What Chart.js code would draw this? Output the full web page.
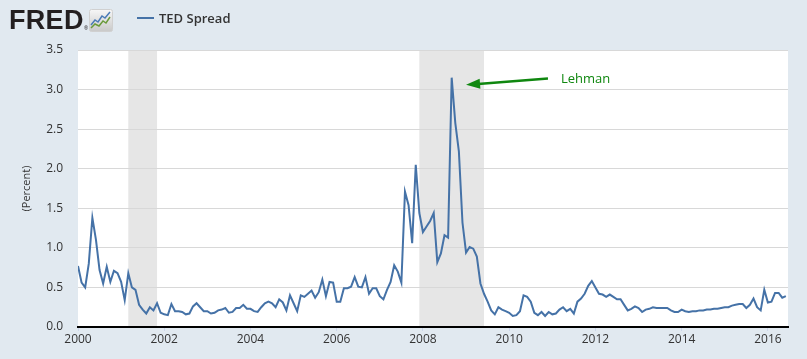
<!DOCTYPE html>
<html lang="en">
<head>
<meta charset="UTF-8">
<title>TED Spread - FRED</title>
<script src="https://cdn.jsdelivr.net/npm/chart.js"></script>
<style>
    html, body { margin: 0; padding: 0; background: #e1e9f0; }
    body { width: 807px; height: 359px; position: relative; overflow: hidden; font-family: 'Open Sans', sans-serif; }
    #chart { position: absolute; left: 0; top: 0; }
    .logo { position: absolute; left: 9px; top: 7px; font-family: 'Liberation Sans', Arial, sans-serif; font-weight: bold;
            font-size: 27px; line-height: 27px; color: #231f20; letter-spacing: 0.3px; }
    .reg { position: absolute; left: 84px; top: 26px; font-size: 5px; line-height: 5px; color: #231f20; }
    .logo-icon { position: absolute; left: 89px; top: 9px; }
    .legend { position: absolute; left: 137px; top: 9px; height: 18px; display: flex; align-items: center; }
    .legend .swatch { width: 17px; height: 2px; background: #4572a7; margin-right: 5px; }
    .legend span { font-size: 13px; font-weight: 600; color: #333; }
</style>
</head>
<body>
<canvas id="chart" width="807" height="359"></canvas>
<div class="logo">FRED</div>
<div class="reg">®</div>
<svg class="logo-icon" width="24" height="23" viewBox="0 0 24 23">
    <defs>
        <linearGradient id="g" x1="0" y1="0" x2="0" y2="1">
            <stop offset="0" stop-color="#f7f7f7"/>
            <stop offset="1" stop-color="#c9c9c9"/>
        </linearGradient>
    </defs>
    <rect x="0.5" y="0.5" width="23" height="22" rx="2" fill="url(#g)" stroke="#d0d0d0"/>
    <polyline points="2,16 6,11 9,13 13,7 16,9 21,3" fill="none" stroke="#4a7bb7" stroke-width="1.5"/>
    <polyline points="2,19 6,15 10,17 14,12 17,14 21,8" fill="none" stroke="#6a9a3a" stroke-width="1.5"/>
</svg>
<div class="legend"><div class="swatch"></div><span>TED Spread</span></div>

<script>
    // Monthly TED spread (percent), Jan 2000 .. Jun 2016
    const startYear = 2000;
    const ted2000 = [0.77, 0.56, 0.50, 0.80, 1.38, 1.10, 0.72, 0.55, 0.76, 0.57, 0.71, 0.68];
    const ted2001 = [0.57, 0.34, 0.68, 0.50, 0.47, 0.28, 0.22, 0.17, 0.25, 0.21, 0.30, 0.18];
    const ted2002 = [0.16, 0.15, 0.29, 0.20, 0.20, 0.19, 0.16, 0.17, 0.26, 0.30, 0.25, 0.20];
    const ted2003 = [0.20, 0.17, 0.18, 0.21, 0.22, 0.24, 0.18, 0.19, 0.24, 0.24, 0.28, 0.23];
    const ted2004 = [0.23, 0.20, 0.19, 0.25, 0.30, 0.32, 0.30, 0.25, 0.35, 0.31, 0.21, 0.40];
    const ted2005 = [0.30, 0.20, 0.40, 0.38, 0.42, 0.46, 0.37, 0.44, 0.60, 0.39, 0.57, 0.56];
    const ted2006 = [0.32, 0.32, 0.49, 0.49, 0.51, 0.63, 0.51, 0.50, 0.63, 0.42, 0.49, 0.49];
    const ted2007 = [0.39, 0.35, 0.47, 0.57, 0.78, 0.70, 0.56, 1.71, 1.54, 1.06, 2.05, 1.44];
    const ted2008 = [1.20, 1.27, 1.34, 1.44, 0.82, 0.93, 1.16, 1.13, 3.15, 2.58, 2.22, 1.32];
    const ted2009 = [0.94, 1.01, 0.99, 0.89, 0.55, 0.42, 0.32, 0.21, 0.16, 0.25, 0.22, 0.20];
    const ted2010 = [0.18, 0.14, 0.15, 0.20, 0.40, 0.38, 0.32, 0.18, 0.15, 0.19, 0.14, 0.19];
    const ted2011 = [0.16, 0.17, 0.22, 0.25, 0.20, 0.23, 0.17, 0.32, 0.36, 0.42, 0.52, 0.58];
    const ted2012 = [0.50, 0.42, 0.41, 0.38, 0.41, 0.38, 0.35, 0.35, 0.28, 0.21, 0.23, 0.26];
    const ted2013 = [0.24, 0.19, 0.22, 0.23, 0.25, 0.24, 0.24, 0.24, 0.24, 0.21, 0.19, 0.19];
    const ted2014 = [0.22, 0.20, 0.19, 0.20, 0.20, 0.21, 0.21, 0.22, 0.22, 0.23, 0.23, 0.24];
    const ted2015 = [0.25, 0.25, 0.27, 0.28, 0.29, 0.29, 0.24, 0.28, 0.36, 0.25, 0.21, 0.47];
    const ted2016 = [0.31, 0.32, 0.43, 0.43, 0.37, 0.39];

    const xTickYears = [2000, 2002, 2004, 2006, 2008, 2010, 2012, 2014, 2016];
    const yTickValues = [0, 0.5, 1.0, 1.5, 2.0, 2.5, 3.0, 3.5];
    const recessions = [['2001-03', '2001-11'], ['2007-12', '2009-06']];
    const note = { text: 'Lehman', tip: [2009.0, 3.06], tail: [2010.9, 3.14] };

    const tedSpread = [].concat(ted2000, ted2001, ted2002, ted2003, ted2004, ted2005, ted2006, ted2007,
        ted2008, ted2009, ted2010, ted2011, ted2012, ted2013, ted2014, ted2015, ted2016);

    function ymToYear(s) {
        const parts = s.split('-').map(Number);
        return parts[0] + (parts[1] - 1) / 12;
    }

    const points = tedSpread.map((v, i) => ({ x: startYear + i / 12, y: v }));

    // white plot area + recession bars, drawn under the grid
    const backdrop = {
        id: 'backdrop',
        beforeDraw(chart) {
            const { ctx, chartArea: a, scales } = chart;
            ctx.save();
            ctx.fillStyle = '#ffffff';
            ctx.fillRect(a.left, a.top, a.right - a.left, a.bottom - a.top);
            ctx.fillStyle = '#e6e6e6';
            recessions.forEach(r => {
                const x0 = scales.x.getPixelForValue(ymToYear(r[0]));
                const x1 = scales.x.getPixelForValue(ymToYear(r[1]));
                ctx.fillRect(x0, a.top, x1 - x0, a.bottom - a.top);
            });
            ctx.restore();
        }
    };

    // "Lehman" arrow
    const annotation = {
        id: 'annotation',
        afterDraw(chart) {
            const { ctx, scales } = chart;
            const tx = scales.x.getPixelForValue(note.tip[0]);
            const ty = scales.y.getPixelForValue(note.tip[1]);
            const sx = scales.x.getPixelForValue(note.tail[0]);
            const sy = scales.y.getPixelForValue(note.tail[1]);
            const ang = Math.atan2(ty - sy, tx - sx);
            ctx.save();
            ctx.strokeStyle = '#0f870f';
            ctx.fillStyle = '#0f870f';
            ctx.lineWidth = 2.5;
            ctx.beginPath();
            ctx.moveTo(sx, sy);
            ctx.lineTo(tx - 12 * Math.cos(ang), ty - 12 * Math.sin(ang));
            ctx.stroke();
            ctx.beginPath();
            ctx.moveTo(tx, ty);
            ctx.lineTo(tx - 14 * Math.cos(ang) - 5 * Math.sin(ang), ty - 14 * Math.sin(ang) + 5 * Math.cos(ang));
            ctx.lineTo(tx - 14 * Math.cos(ang) + 5 * Math.sin(ang), ty - 14 * Math.sin(ang) - 5 * Math.cos(ang));
            ctx.closePath();
            ctx.fill();
            ctx.font = '13px "Open Sans", sans-serif';
            ctx.textBaseline = 'middle';
            ctx.fillText(note.text, sx + 13, sy + 1);
            ctx.restore();
        }
    };

    const font = { family: "'Open Sans', sans-serif", size: 12 };

    new Chart(document.getElementById('chart'), {
        type: 'line',
        data: {
            datasets: [{
                label: 'TED Spread',
                data: points,
                borderColor: '#4572a7',
                borderWidth: 2,
                pointRadius: 0,
                tension: 0,
                fill: false
            }]
        },
        options: {
            responsive: false,
            animation: false,
            layout: { padding: { left: 16, right: 19, top: 50, bottom: 0 } },
            plugins: {
                legend: { display: false },
                tooltip: { enabled: false }
            },
            scales: {
                x: {
                    type: 'linear',
                    min: startYear,
                    max: startYear + 197.6 / 12,
                    afterFit: s => { s.height = 32; },
                    afterBuildTicks: s => { s.ticks = xTickYears.map(v => ({ value: v })); },
                    ticks: {
                        callback: v => String(v),
                        color: '#333',
                        font: font,
                        maxRotation: 0,
                        autoSkip: false,
                        padding: 1
                    },
                    grid: { drawOnChartArea: false, drawTicks: true, tickLength: 4, color: '#ccd6eb' },
                    border: { color: '#000', width: 2 }
                },
                y: {
                    min: 0,
                    max: 3.5,
                    afterFit: s => { s.width = 62; },
                    afterBuildTicks: s => { s.ticks = yTickValues.map(v => ({ value: v })); },
                    ticks: {
                        callback: v => v.toFixed(1),
                        color: '#333',
                        font: font,
                        padding: 15
                    },
                    grid: { color: '#d8d8d8', drawTicks: false },
                    border: { display: false },
                    title: {
                        display: true,
                        text: '(Percent)',
                        color: '#333',
                        font: { family: "'Open Sans', sans-serif", size: 11 },
                        padding: { top: 4, bottom: 0 }
                    }
                }
            }
        },
        plugins: [backdrop, annotation]
    });
</script>
</body>
</html>
